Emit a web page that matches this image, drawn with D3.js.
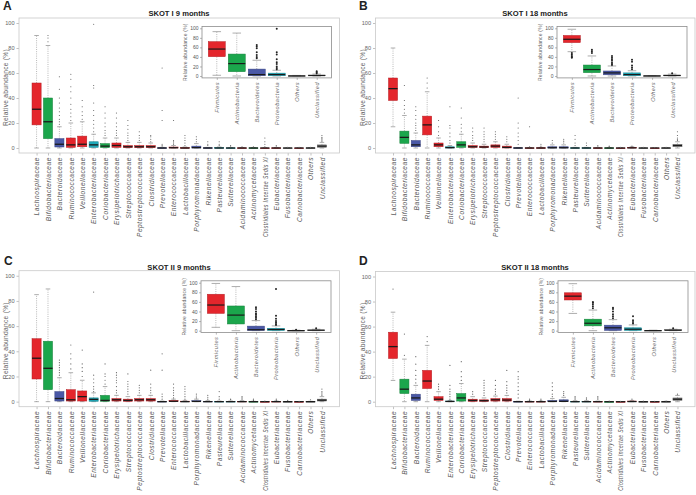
<!DOCTYPE html>
<html><head><meta charset="utf-8">
<script src="https://cdn.jsdelivr.net/npm/d3@7"></script>
<style>
body{margin:0;background:#fff}
svg{display:block}
text{font-family:"Liberation Sans",Arial,Helvetica,sans-serif}
</style>
</head><body>
<svg id="chart" width="696" height="495"></svg>
<script>
// ---------- DATA ----------
const families = ["Lachnospiraceae","Bifidobacteriaceae","Bacteroidaceae","Ruminococcaceae","Veillonellaceae","Enterobacteriaceae","Coriobacteriaceae","Erysipelotrichaceae","Streptococcaceae","Peptostreptococcaceae","Clostridiaceae","Prevotellaceae","Enterococcaceae","Lactobacillaceae","Porphyromonadaceae","Rikenellaceae","Pasteurellaceae","Sutterellaceae","Acidaminococcaceae","Actinomycetaceae","Clostridiales Incertae Sedis XI","Eubacteriaceae","Fusobacteriaceae","Carnobacteriaceae","Others","Unclassified"];
const familyPhylum = ["Firmicutes","Actinobacteria","Bacteroidetes","Firmicutes","Firmicutes","Proteobacteria","Actinobacteria","Firmicutes","Firmicutes","Firmicutes","Firmicutes","Bacteroidetes","Firmicutes","Firmicutes","Bacteroidetes","Bacteroidetes","Proteobacteria","Proteobacteria","Firmicutes","Actinobacteria","Firmicutes","Firmicutes","Others","Firmicutes","Others","Unclassified"];
const phyla = ["Firmicutes","Actinobacteria","Bacteroidetes","Proteobacteria","Others","Unclassified"];
const yTicks = [0,20,40,60,80,100];
const panelLetters = ["A","B","C","D"];
const panelTitles = ["SKOT I 9 months","SKOT I 18 months","SKOT II 9 months","SKOT II 18 months"];

// box stats: [lower whisker, Q1, median, Q3, upper whisker]
const skotI9Main = [[0,18.5,31,52,90],[0,7.5,21,40,82],[0,0.8,3,7.5,17],[0,0.5,2.5,8,20],[0,1,3,9.5,21],[0,0.5,2.5,5,11],[0,0.3,1.5,3.5,8],[0,0.5,2,4,8],[0,0.3,1,2,4.5],[0,0.3,1,2,4.5],[0,0.3,1,2,4],[0,0,0,0.2,0.5],[0,0,0.2,0.8,2],[0,0,0,0.3,0.8],[0,0,0.3,1.5,3.5],[0,0,0,0.2,0.5],[0,0,0,0.3,0.8],[0,0,0,0.1,0.3],[0,0,0,0.1,0.3],[0,0,0,0.1,0.3],[0,0,0,0,0.1],[0,0,0,0.1,0.3],[0,0,0,0,0],[0,0,0,0,0],[0,0,0,0.1,0.3],[0,0.5,1.5,2.5,4.5]];
const skotI9MainOut = [[],[85,88,90],[19,21,23,26,29,32,36,40,47,57],[22,25,28,31,35,40,45,49,55,59],[23,26,29,33,38],[13,16,19,22,26,30,36,48,50,99],[10,12,14,17,20,24,28,33],[10,12,14,17,20,24,28],[6,8,10,12,15,18,22],[6,8,10,13],[5,7,9,10],[1,2,3,22,30,64],[3,4,5,6,22],[2,4,6,8,10],[5,7,9],[2,3,5],[2,3,5],[1,2],[1],[1],[1,3,5,8],[1,2],[0.5],[0.5],[0.5],[5.5,6.5,7.5,8.5,10]];
const skotI9Inset = [[1.5,40.5,56.5,72,93],[0,9,26,46,90],[0,0.5,3,14.5,33],[0,0.5,3,6,12],[0,0,0.2,0.5,1.2],[0,0.5,1,2,4]];
const skotI9InsetOut = [[],[],[37,40,44,50,58,62,65],[14,17,20,25,29,35,45,50,99],[],[6,8,10]];

const skotI18Main = [[17,38,47.5,56,80],[0,3.7,8.5,13.5,26],[0,1,2.5,6,12],[0,10.5,18.5,25.5,45],[0,1,2.5,4,8],[0,0,0.3,1,2],[0,0.5,2.5,5,11],[0,0.5,1,2,4],[0,0.3,0.8,1.5,3],[0,0.5,1.5,2.5,5],[0,0,0.5,1.5,3],[0,0,0,0.2,0.4],[0,0,0,0.1,0.3],[0,0,0,0.2,0.5],[0,0,0.2,1,2.5],[0,0,0.2,1,2.5],[0,0,0,0.2,0.5],[0,0,0,0.2,0.5],[0,0,0,0.1,0.3],[0,0,0,0.1,0.3],[0,0,0,0,0.1],[0,0,0.1,0.5,1],[0,0,0,0,0],[0,0,0,0,0],[0,0,0,0.1,0.3],[0,1,2,3,5]];
const skotI18MainOut = [[],[28,31,34,38,50],[14,16,18,20,23,26,30,33],[48,52,56],[10,13,17,22],[4,6,9,12,16,18,33],[13,16,19,24,32],[6,8,10,13,16],[5,7,9,11,13,16],[7,9,11,13],[5,7,9],[3,6,9,12,16,20,40],[1,17],[1.5,3],[4,6],[4,5.5,7],[2,4,7,10],[2,4],[1,2],[1,1.5],[0.5],[1.5],[0.5],[0.3],[0.5],[6,7,8,10,13]];
const skotI18Inset = [[51,70,77,85,98],[0,7,13.5,23,42],[0,2.5,6.5,10.5,21],[0,0.5,3,6.5,11],[0,0,0.2,0.5,1],[0,0.5,1,2,4]];
const skotI18InsetOut = [[38,40,42,45,48],[48,52,55],[23,25,28,32,35,38,42],[14,18,22,30,34],[],[6]];

const skotII9Main = [[0,18,34.5,50,85],[0,9.5,26.5,48,89.5],[0,0.5,2.5,8,19],[0,0.5,1.5,9.5,23],[0,0.5,4,8.5,17],[0,0.3,1.8,3,7],[0,0.3,1,5,12],[0,0.5,1.5,2.5,5],[0,0.3,1,2,4],[0,0.5,1.5,2.5,5],[0,0.5,1.5,2.5,5],[0,0,0,0.2,0.5],[0,0,0.3,1,2],[0,0,0,0.4,1],[0,0,0.2,0.8,2],[0,0,0,0.3,0.8],[0,0,0,0.2,0.5],[0,0,0,0.2,0.5],[0,0,0,0.3,0.8],[0,0,0,0.1,0.3],[0,0,0,0,0.1],[0,0,0,0.2,0.5],[0,0,0,0,0.1],[0,0,0,0,0],[0,0,0,0.1,0.3],[0,0.5,1.2,2,4]];
const skotII9MainOut = [[],[],[21,23,25,27,29,31,33],[26,30,34,38,45],[20,24,27,30,41],[8,10,12,15,18,21,87],[14,17,20,22,30],[7,9,12,15,17,19,21,23],[6,8,10,12,14,16,22],[7,9,11,13],[7,9,11,14,25],[2,4,6,25,38],[3,5,7,9,11,14],[2,4,6,8,10,12],[3,4.5,6],[2,3.5,5],[2,4,8],[1.5,2],[2,3,4],[1,2],[0.5],[1,2],[1],[0.3],[1.5],[5,6,7,8,10]];
const skotII9Inset = [[7,36,53.5,76,98.5],[0,14,32.5,51.5,92],[0,0.5,2,9.5,21],[0,0.5,2.5,5,10],[0,0,0.2,0.5,1],[0,0.3,1,1.5,3]];
const skotII9InsetOut = [[],[],[24,27,30,33,36,40,45,49],[12,14,17,20,25,31,87],[2],[5]];

const skotII18Main = [[17,34.5,44,55.5,71.5],[0,6.5,10,18,34],[0,1,3,6,13],[0,10.5,16.5,25,45],[0,1,2,4,8],[0,0,0.2,0.5,1],[0,0.5,3,6.5,14.5],[0,0.3,1,2,4],[0,0.3,0.8,1.5,3],[0,0.5,1.5,2.5,4.5],[0,0.5,1.3,2.5,5],[0,0,0,0.2,0.4],[0,0,0,0.2,0.5],[0,0,0,0.2,0.5],[0,0,0.2,1,2.5],[0,0,0.3,1.5,3.5],[0,0,0,0.3,0.8],[0,0,0,0.3,0.8],[0,0,0,0.2,0.5],[0,0,0,0,0.1],[0,0,0,0,0.1],[0,0,0.1,0.5,1],[0,0,0,0,0.1],[0,0,0,0,0],[0,0,0,0.1,0.3],[0,1,2,3,5]];
const skotII18MainOut = [[90],[37,54],[15,18,21,25,30,36],[48,52],[10,12,14],[2,4,6,8,10,13,29],[17,20,24,32],[6,8],[5,7,9,11,13,15,17],[6,8,10,13,17],[7,9,11,13,16,25],[3,6,9,12,15,18,20,24],[1,2],[1,2],[4,6,9,12,15],[5,6.5,8],[2,3,4],[2,3],[2,3,4],[0.5],[0.3],[2],[0.5],[0.3],[0.5],[6]];
const skotII18Inset = [[36,64,72,79,98],[0,10,15.5,24,43],[0,0.5,6,11.5,23],[0,0.5,3,6,12],[0,0,0.2,0.5,1],[0,0.5,1,2,3]];
const skotII18InsetOut = [[],[47,51,55,58,60],[26,30,34,40,45,48],[15,18,22,30],[],[5]];

// ---------- STYLE ----------
const phylumColor = {Firmicutes:"#e4262c", Actinobacteria:"#1ba64c", Bacteroidetes:"#4a58a6", Proteobacteria:"#1fa8b8", Others:"#8e8e8e", Unclassified:"#8e8e8e"};
const phylumStroke = {Firmicutes:"#b41f24", Actinobacteria:"#16803b", Bacteroidetes:"#3a4583", Proteobacteria:"#178592", Others:"#6e6e6e", Unclassified:"#6e6e6e"};

const panels = [
  {main:skotI9Main, mainOut:skotI9MainOut, inset:skotI9Inset, insetOut:skotI9InsetOut,
   frame:[19,18,339.5,153], insetFrame:[202,26.4,331.5,77.9], letterXY:[3,10], titleXY:[179,16]},
  {main:skotI18Main, mainOut:skotI18MainOut, inset:skotI18Inset, insetOut:skotI18InsetOut,
   frame:[375.5,18,695,153], insetFrame:[557,26.4,687,77.9], letterXY:[359,10], titleXY:[535,16]},
  {main:skotII9Main, mainOut:skotII9MainOut, inset:skotII9Inset, insetOut:skotII9InsetOut,
   frame:[19,270.7,339.5,406.7], insetFrame:[201,280.8,331,332.6], letterXY:[4,265], titleXY:[179,270]},
  {main:skotII18Main, mainOut:skotII18MainOut, inset:skotII18Inset, insetOut:skotII18InsetOut,
   frame:[375.5,271.5,695,406.7], insetFrame:[558,280.8,688,332.6], letterXY:[359,265], titleXY:[535,270]}
];
const maxLabelLen = 80;

const svg = d3.select("#chart");

function drawBoxes(g, xs, ys, stats, outs, colorKeys, o) {
  const step = xs(2) - xs(1);
  const bw = step * o.boxFrac;
  stats.forEach((s, i) => {
    const cx = xs(i + 1);
    const key = colorKeys[i];
    const bg = g.append("g");
    bg.append("line").attr("x1", cx).attr("x2", cx).attr("y1", ys(s[3])).attr("y2", ys(s[4]))
      .attr("stroke", o.whisk).attr("stroke-width", 0.6).attr("stroke-dasharray", "1,1.2");
    bg.append("line").attr("x1", cx).attr("x2", cx).attr("y1", ys(s[1])).attr("y2", ys(s[0]))
      .attr("stroke", o.whisk).attr("stroke-width", 0.6).attr("stroke-dasharray", "1,1.2");
    [s[0], s[4]].forEach(v => {
      bg.append("line").attr("x1", cx - bw * 0.25).attr("x2", cx + bw * 0.25)
        .attr("y1", ys(v)).attr("y2", ys(v)).attr("stroke", o.whisk).attr("stroke-width", 0.7);
    });
    bg.append("rect").attr("x", cx - bw / 2).attr("width", bw)
      .attr("y", ys(s[3])).attr("height", Math.max(0.6, ys(s[1]) - ys(s[3])))
      .attr("fill", phylumColor[key]).attr("stroke", phylumStroke[key]).attr("stroke-width", 0.5);
    bg.append("line").attr("x1", cx - bw / 2).attr("x2", cx + bw / 2)
      .attr("y1", ys(s[2])).attr("y2", ys(s[2])).attr("stroke", "#1a1a1a").attr("stroke-width", o.medW);
    bg.selectAll("circle.o").data(outs[i]).join("circle").attr("class", "o")
      .attr("cx", cx).attr("cy", v => ys(v)).attr("r", o.outR).attr("fill", o.outFill);
  });
}

panels.forEach((p, pi) => {
  const g = svg.append("g");
  const [fx0, fy0, fx1, fy1] = p.frame;
  const xs = d3.scaleLinear().domain([-0.54, families.length + 1.54]).range([fx0, fx1]);
  const ys = d3.scaleLinear().domain([-4, 104]).range([fy1, fy0]);

  g.append("text").attr("x", p.letterXY[0]).attr("y", p.letterXY[1]).text(panelLetters[pi])
    .attr("font-size", 12).attr("font-weight", "bold").attr("fill", "#222");
  g.append("text").attr("x", p.titleXY[0]).attr("y", p.titleXY[1]).text(panelTitles[pi])
    .attr("font-size", 7.6).attr("font-weight", "bold").attr("text-anchor", "middle").attr("fill", "#222");

  const ya = g.append("g").attr("transform", `translate(${fx0},0)`)
    .call(d3.axisLeft(ys).tickValues(yTicks).tickSize(2.5).tickPadding(2));
  ya.select(".domain").remove();
  ya.selectAll("line").attr("stroke", "#999").attr("stroke-width", 0.6);
  ya.selectAll("text").attr("font-size", 5.6).attr("fill", "#666").style("font-family", '"Liberation Sans",Arial,sans-serif');
  g.append("text").attr("transform", `translate(${fx0 - 11},${(fy0 + fy1) / 2 + 2}) rotate(-90)`)
    .attr("text-anchor", "middle").attr("font-size", 6.6).attr("fill", "#666").attr("letter-spacing", 0.3)
    .text("Relative abundance (%)");

  const xa = g.append("g").attr("transform", `translate(0,${fy1})`)
    .call(d3.axisBottom(xs).tickValues(d3.range(1, families.length + 1)).tickSize(2.5).tickFormat(i => families[i - 1]));
  xa.select(".domain").remove();
  xa.selectAll("line").attr("stroke", "#999").attr("stroke-width", 0.6);
  xa.selectAll("text").attr("transform", "rotate(-90)").attr("x", -4).attr("y", 0).attr("dy", "0.35em")
    .attr("text-anchor", "end").attr("font-size", 6.6).attr("font-style", "italic").attr("fill", "#555")
    .attr("letter-spacing", 0.55).style("font-family", '"Liberation Sans",Arial,sans-serif')
    .each(function() {
      const len = this.getComputedTextLength();
      if (len > maxLabelLen) {
        d3.select(this).attr("textLength", maxLabelLen).attr("lengthAdjust", "spacingAndGlyphs");
      }
    });

  drawBoxes(g, xs, ys, p.main, p.mainOut, familyPhylum,
    {boxFrac: 0.8, whisk: "#8a8a8a", medW: 1.3, outR: 0.6, outFill: "#666"});

  g.append("rect").attr("x", fx0).attr("y", fy0).attr("width", fx1 - fx0).attr("height", fy1 - fy0)
    .attr("fill", "none").attr("stroke", "#c9c9c9").attr("stroke-width", 0.8);

  const [ix0, iy0, ix1, iy1] = p.insetFrame;
  const ixs = d3.scaleLinear().domain([0.26, phyla.length + 0.74]).range([ix0, ix1]);
  const iys = d3.scaleLinear().domain([-4, 104]).range([iy1, iy0]);
  const ig = g.append("g");
  ig.append("rect").attr("x", ix0).attr("y", iy0).attr("width", ix1 - ix0).attr("height", iy1 - iy0)
    .attr("fill", "#fff");
  drawBoxes(ig, ixs, iys, p.inset, p.insetOut, phyla,
    {boxFrac: 0.85, whisk: "#8a8a8a", medW: 1.2, outR: 1.0, outFill: "#222"});
  ig.append("rect").attr("x", ix0).attr("y", iy0).attr("width", ix1 - ix0).attr("height", iy1 - iy0)
    .attr("fill", "none").attr("stroke", "#8c8c8c").attr("stroke-width", 0.8);
  const iya = ig.append("g").attr("transform", `translate(${ix0},0)`)
    .call(d3.axisLeft(iys).tickValues(yTicks).tickSize(2).tickPadding(1.5));
  iya.select(".domain").remove();
  iya.selectAll("line").attr("stroke", "#888").attr("stroke-width", 0.6);
  iya.selectAll("text").attr("font-size", 5).attr("fill", "#555").style("font-family", '"Liberation Sans",Arial,sans-serif');
  ig.append("text").attr("transform", `translate(${ix0 - 15},${(iy0 + iy1) / 2}) rotate(-90)`)
    .attr("text-anchor", "middle").attr("font-size", 5).attr("fill", "#666").attr("letter-spacing", 0.2)
    .text("Relative abundance (%)");
  const ixa = ig.append("g").attr("transform", `translate(0,${iy1})`)
    .call(d3.axisBottom(ixs).tickValues(d3.range(1, phyla.length + 1)).tickSize(2).tickFormat(i => phyla[i - 1]));
  ixa.select(".domain").remove();
  ixa.selectAll("line").attr("stroke", "#888").attr("stroke-width", 0.6);
  ixa.selectAll("text").attr("transform", "rotate(-90)").attr("x", -4).attr("y", 0).attr("dy", "0.35em")
    .attr("text-anchor", "end").attr("font-size", 5.6).attr("font-style", "italic").attr("fill", "#666")
    .attr("letter-spacing", 0.5).style("font-family", '"Liberation Sans",Arial,sans-serif');
});
</script>
</body></html>
